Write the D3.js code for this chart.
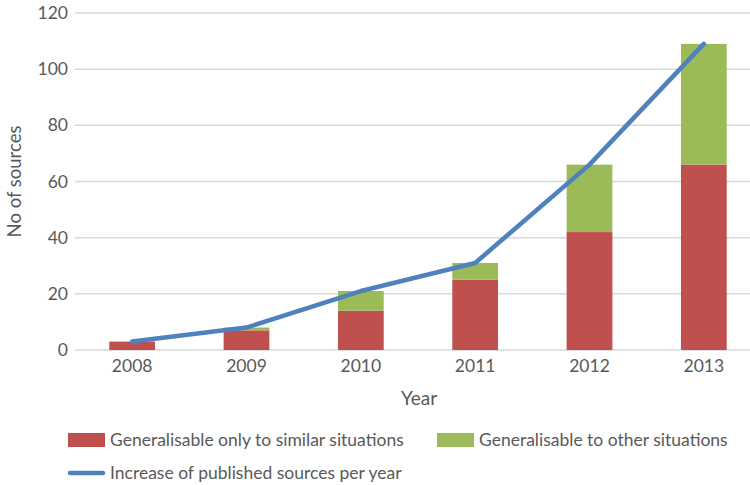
<!DOCTYPE html>
<html>
<head>
<meta charset="utf-8">
<script src="https://cdn.jsdelivr.net/npm/d3@7"></script>
<style>
  body { margin: 0; background: #fff; }
  svg text { font-family: Lato, "Liberation Sans", sans-serif; fill: #595959; }
</style>
</head>
<body>
<svg id="chart" width="750" height="485"></svg>
<script>
const years = ["2008", "2009", "2010", "2011", "2012", "2013"];
const similarOnly = [3, 7, 14, 25, 42, 66];
const otherSituations = [0, 1, 7, 6, 24, 43];
const publishedPerYear = [3, 8, 21, 31, 66, 109];
const yTicks = [0, 20, 40, 60, 80, 100, 120];

const seriesNames = ["Generalisable only to similar situations", "Generalisable to other situations"];
const lineName = "Increase of published sources per year";
const colors = { similar: "#C0504D", other: "#9BBB59", line: "#4F81BD" };

const margin = { top: 13, right: 0, bottom: 135, left: 75 },
      width = 750 - margin.left - margin.right,
      height = 485 - margin.top - margin.bottom;

const svg = d3.select("#chart");
const g = svg.append("g").attr("transform", `translate(${margin.left},${margin.top})`);

// the plot area runs a little past the right edge of the picture
const x = d3.scaleBand().domain(years).range([0, 686]).paddingInner(0.6).paddingOuter(0.3);
const y = d3.scaleLinear().domain([0, 120]).range([height, 0]);

// gridlines
g.append("g")
    .selectAll("line")
    .data(yTicks)
    .enter()
    .append("line")
    .attr("x1", 0)
    .attr("x2", width)
    .attr("y1", d => y(d))
    .attr("y2", d => y(d))
    .attr("stroke", "#D9D9D9")
    .attr("stroke-width", 1.5);

// y axis labels
const yAxis = g.append("g")
    .call(d3.axisLeft(y).tickValues(yTicks).tickSize(0).tickPadding(7));
yAxis.select(".domain").remove();
yAxis.selectAll("text").style("font-size", "17.5px").attr("fill", "#595959");

// x axis labels
const xAxis = g.append("g")
    .attr("transform", `translate(0,${height})`)
    .call(d3.axisBottom(x).tickSize(0).tickPadding(10));
xAxis.select(".domain").remove();
xAxis.selectAll("text").style("font-size", "17.5px").attr("fill", "#595959");

// stacked bars
const rows = years.map((yr, i) => ({ year: yr, similar: similarOnly[i], other: otherSituations[i] }));
const stack = d3.stack().keys(["similar", "other"])(rows);

g.append("g")
    .selectAll("g")
    .data(stack)
    .enter()
    .append("g")
    .attr("fill", d => colors[d.key])
    .selectAll("rect")
    .data(d => d)
    .enter()
    .append("rect")
    .attr("x", d => x(d.data.year))
    .attr("width", x.bandwidth())
    .attr("y", d => y(d[1]))
    .attr("height", d => y(d[0]) - y(d[1]));

// line
const line = d3.line()
    .x((d, i) => x(years[i]) + x.bandwidth() / 2)
    .y(d => y(d));

g.append("path")
    .datum(publishedPerYear)
    .attr("fill", "none")
    .attr("stroke", colors.line)
    .attr("stroke-width", 4.5)
    .attr("stroke-linecap", "round")
    .attr("stroke-linejoin", "round")
    .attr("d", line);

// axis titles
svg.append("text")
    .attr("transform", `translate(21,${margin.top + height / 2}) rotate(-90)`)
    .attr("text-anchor", "middle")
    .style("font-size", "18.5px")
    .text("No of sources");

svg.append("text")
    .attr("x", 419)
    .attr("y", 405)
    .attr("text-anchor", "middle")
    .style("font-size", "19px")
    .text("Year");

// legend
const legend = svg.append("g");
const legendItems = [
    { label: seriesNames[0], color: colors.similar, type: "rect", x: 68, y: 440 },
    { label: seriesNames[1], color: colors.other, type: "rect", x: 437, y: 440 },
    { label: lineName, color: colors.line, type: "line", x: 68, y: 473 }
];

legendItems.forEach(d => {
    const item = legend.append("g").attr("transform", `translate(${d.x},${d.y})`);
    if (d.type === "rect") {
        item.append("rect")
            .attr("x", 0).attr("y", -7)
            .attr("width", 37).attr("height", 14)
            .attr("fill", d.color);
    } else {
        item.append("line")
            .attr("x1", 2).attr("x2", 35)
            .attr("y1", 0).attr("y2", 0)
            .attr("stroke", d.color)
            .attr("stroke-width", 4.5)
            .attr("stroke-linecap", "round");
    }
    item.append("text")
        .attr("x", 42)
        .attr("y", 0)
        .attr("dy", "0.35em")
        .style("font-size", "17.5px")
        .text(d.label);
});
</script>
</body>
</html>
